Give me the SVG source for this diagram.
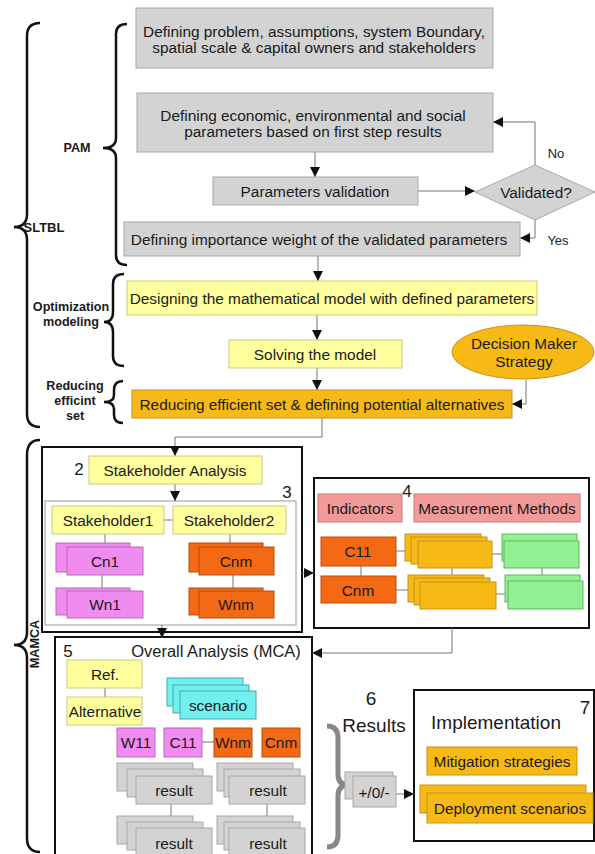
<svg xmlns="http://www.w3.org/2000/svg" width="595" height="854" viewBox="0 0 595 854">
<style>
.t{font-family:"Liberation Sans",Arial,sans-serif;font-size:15.4px;text-anchor:middle;dominant-baseline:central;fill:#1a1a1a}
.b{font-weight:bold;font-size:12.6px}
.n17{font-size:17px}
.n19{font-size:19px}
.n16{font-size:16.5px}
.n13{font-size:13px}
.gray{fill:#D3D3D3;stroke:#A8A8A8;stroke-width:1}
.ly{fill:#FFFF9E;stroke:#CACA80;stroke-width:1}
.or{fill:#F7B916;stroke:#C8921A;stroke-width:1}
.pk{fill:#F08CF0;stroke:#B868B8;stroke-width:1}
.rd{fill:#F46A14;stroke:#B84C10;stroke-width:1}
.sal{fill:#F29A9A;stroke:#C87878;stroke-width:1}
.gr{fill:#92F092;stroke:#60B860;stroke-width:1}
.cy{fill:#72F0F0;stroke:#40AAAA;stroke-width:1}
.cont{fill:#fff;stroke:#111;stroke-width:2}
.brace{fill:none;stroke:#111;stroke-width:2.5}
.ln{fill:none;stroke:#777;stroke-width:1}
.ar{fill:none;stroke:#777;stroke-width:1;marker-end:url(#ah)}
</style>
<defs>
<marker id="ah" markerUnits="userSpaceOnUse" markerWidth="10" markerHeight="10" viewBox="0 0 10 10" refX="10" refY="5" orient="auto">
<path d="M0,0 L10,5 L0,10 z" fill="#111"/>
</marker>
</defs>
<rect width="595" height="854" fill="#fff"/>

<g id="braces">
<path class="brace" d="M40,23 Q27,23 27,36 L27,214 Q27,227 14,227 Q27,227 27,240 L27,414 Q27,427 40,427"/>
<path class="brace" d="M127,24 Q116,24 116,34 L116,138 Q116,148 103,148 Q116,148 116,158 L116,255 Q116,265 127,265"/>
<path class="brace" d="M124,274 Q113,274 113,284 L113,312 Q113,322 104,322 Q113,322 113,332 L113,356 Q113,366 124,366"/>
<path class="brace" d="M123,381 Q114,381 114,390 L114,395 Q114,402 104,402 Q114,402 114,409 L114,415 Q114,423 123,423"/>
<path class="brace" d="M40,440 Q27,440 27,455 L27,632 Q27,645 14,645 Q27,645 27,658 L27,838 Q27,852 40,852"/>
<path fill="none" stroke="#888" stroke-width="5" d="M327,726 Q338,726 338,738 L338,774 Q338,785 348,785 Q338,785 338,796 L338,835 Q338,847 327,847"/>
<text class="t b" x="77" y="148">PAM</text>
<text class="t b" x="44" y="227" style="font-size:13px">SLTBL</text>
<text class="t b" x="71" y="307">Optimization</text>
<text class="t b" x="71" y="322">modeling</text>
<text class="t b" x="75" y="386">Reducing</text>
<text class="t b" x="75" y="401">efficint</text>
<text class="t b" x="75" y="416">set</text>
<text class="t b" x="35" y="644" transform="rotate(-90 35 644)">MAMCA</text>
</g>

<g id="containers">
<rect id="c2" class="cont" x="42" y="447" width="260" height="185"/>
<rect id="c3" x="45" y="501" width="251" height="124" fill="#fff" stroke="#999" stroke-width="1"/>
<rect id="c4" class="cont" x="314" y="478" width="275" height="150"/>
<rect id="c5" class="cont" x="55" y="637" width="257" height="230"/>
<rect id="c7" class="cont" x="414" y="690" width="180" height="151"/>
<text class="t n17" x="79" y="469">2</text>
<text class="t n17" x="287" y="492">3</text>
<text class="t n17" x="407" y="491">4</text>
<text class="t n17" x="68" y="651">5</text>
<text class="t n16" x="216" y="651">Overall Analysis (MCA)</text>
<text class="t n19" x="371" y="698">6</text>
<text class="t n19" x="374" y="725">Results</text>
<text class="t n19" x="585" y="707">7</text>
<text class="t n19" x="496" y="722">Implementation</text>
</g>

<g id="connectors">
<path class="ar" d="M315,152 V177"/>
<path class="ar" d="M418,191 H475"/>
<path class="ar" d="M535,165 V122 H493"/>
<path class="ar" d="M535,220 V238 H520"/>
<path class="ar" d="M318,256 V281"/>
<path class="ar" d="M317,315 V340"/>
<path class="ar" d="M317,368 V390"/>
<path class="ar" d="M526,380 V404 H512"/>
<path class="ar" d="M322,418 V437 H175 V456"/>
<path class="ar" d="M175,484 V501"/>
<path class="ar" d="M302,573 H314"/>
<path class="ar" d="M162,625 V638"/>
<path class="ar" d="M452,628 V653 H312"/>
<path class="ar" d="M396,794 H414"/>
<path class="ln" d="M164,520 H173"/>
<path class="ln" d="M105,534 V547 M102,575 V591 M230,534 V547 M233,575 V591"/>
<path class="ln" d="M361,566 V576 M396,551 H405 M492,554 H504 M452,568 V582 M542,568 V581 M396,590 H408 M496,594 H508"/>
<path class="ln" d="M105,688 V697 M202,742 H214 M171,804 V828 M267,804 V828"/>
</g>

<g id="n1"><rect class="gray" x="136" y="8" width="357" height="60"/>
<text class="t" x="314" y="31">Defining problem, assumptions, system Boundary,</text>
<text class="t" x="314" y="47">spatial scale &amp; capital owners and stakeholders</text></g>
<g id="n2"><rect class="gray" x="137" y="93" width="356" height="59"/>
<text class="t" x="313" y="115">Defining economic, environmental and social</text>
<text class="t" x="313" y="131">parameters based on first step results</text></g>
<g id="n3"><rect class="gray" x="213" y="177" width="205" height="28"/>
<text class="t" x="315" y="191">Parameters validation</text></g>
<g id="n-valid"><polygon class="gray" points="475,192 535,165 595,192 535,220"/>
<text class="t" x="536" y="192">Validated?</text></g>
<text class="t n13" x="556" y="153">No</text>
<text class="t n13" x="558" y="240">Yes</text>
<g id="n4"><rect class="gray" x="124" y="222" width="396" height="34"/>
<text class="t" x="319" y="239">Defining importance weight of the validated parameters</text></g>
<g id="n5"><rect class="ly" x="127" y="281" width="410" height="34"/>
<text class="t" x="332" y="298">Designing the mathematical model with defined parameters</text></g>
<g id="n6"><rect class="ly" x="229" y="340" width="173" height="28"/>
<text class="t" x="315" y="354">Solving the model</text></g>
<g id="n-dm"><ellipse cx="523" cy="352" rx="71" ry="27" fill="#F7B916" stroke="#C8921A"/>
<text class="t" x="524" y="343">Decision Maker</text>
<text class="t" x="524" y="361">Strategy</text></g>
<g id="n7"><rect class="or" x="132" y="390" width="380" height="28"/>
<text class="t" x="322" y="404">Reducing efficient set &amp; defining potential alternatives</text></g>

<g id="n-sa"><rect class="ly" x="89" y="456" width="173" height="28"/>
<text class="t" x="175" y="470">Stakeholder Analysis</text></g>
<g id="n-s1"><rect class="ly" x="52" y="506" width="112" height="28"/>
<text class="t" x="108" y="520">Stakeholder1</text></g>
<g id="n-s2"><rect class="ly" x="173" y="506" width="113" height="28"/>
<text class="t" x="229" y="520">Stakeholder2</text></g>
<g id="n-cn1"><rect class="pk" x="56" y="543" width="74" height="29"/><rect class="pk" x="67" y="547" width="76" height="28"/>
<text class="t" x="105" y="561">Cn1</text></g>
<g id="n-wn1"><rect class="pk" x="56" y="588" width="74" height="27"/><rect class="pk" x="67" y="591" width="76" height="27"/>
<text class="t" x="105" y="604">Wn1</text></g>
<g id="n-cnm"><rect class="rd" x="189" y="543" width="74" height="29"/><rect class="rd" x="199" y="547" width="75" height="28"/>
<text class="t" x="236" y="561">Cnm</text></g>
<g id="n-wnm"><rect class="rd" x="189" y="588" width="74" height="27"/><rect class="rd" x="199" y="591" width="75" height="27"/>
<text class="t" x="236" y="604">Wnm</text></g>

<g id="n-ind"><rect class="sal" x="318" y="494" width="84" height="28"/>
<text class="t" x="360" y="508">Indicators</text></g>
<g id="n-mm"><rect class="sal" x="414" y="494" width="166" height="28"/>
<text class="t" x="497" y="508">Measurement Methods</text></g>
<g id="n-c11"><rect class="rd" x="321" y="537" width="75" height="29"/>
<text class="t" x="358" y="551">C11</text></g>
<g id="n-cnm4"><rect class="rd" x="321" y="576" width="75" height="27"/>
<text class="t" x="358" y="590">Cnm</text></g>
<g id="n-y1"><rect class="or" x="405" y="534" width="76" height="27"/><rect class="or" x="411" y="537" width="76" height="27"/><rect class="or" x="418" y="541" width="74" height="27"/></g>
<g id="n-y2"><rect class="or" x="408" y="575" width="76" height="27"/><rect class="or" x="414" y="578" width="76" height="27"/><rect class="or" x="420" y="582" width="76" height="27"/></g>
<g id="n-g1"><rect class="gr" x="502" y="534" width="75" height="27"/><rect class="gr" x="504" y="541" width="75" height="27"/></g>
<g id="n-g2"><rect class="gr" x="505" y="575" width="75" height="27"/><rect class="gr" x="508" y="581" width="75" height="28"/></g>

<g id="n-ref"><rect class="ly" x="67" y="660" width="75" height="28"/>
<text class="t" x="105" y="674">Ref.</text></g>
<g id="n-alt"><rect class="ly" x="67" y="697" width="75" height="28"/>
<text class="t" x="105" y="711">Alternative</text></g>
<g id="n-sc"><rect class="cy" x="167" y="678" width="76" height="28"/><rect class="cy" x="173" y="685" width="76" height="28"/><rect class="cy" x="180" y="691" width="76" height="28"/>
<text class="t" x="218" y="705">scenario</text></g>
<g id="n-w11"><rect class="pk" x="117" y="728" width="38" height="29"/>
<text class="t" x="136" y="742">W11</text></g>
<g id="n-c11b"><rect class="pk" x="164" y="728" width="38" height="29"/>
<text class="t" x="183" y="742">C11</text></g>
<g id="n-wnmb"><rect class="rd" x="214" y="728" width="38" height="29"/>
<text class="t" x="233" y="742">Wnm</text></g>
<g id="n-cnmb"><rect class="rd" x="262" y="728" width="38" height="29"/>
<text class="t" x="281" y="742">Cnm</text></g>
<g id="n-r1"><rect class="gray" x="117" y="763" width="76" height="28"/><rect class="gray" x="127" y="769" width="76" height="28"/><rect class="gray" x="136" y="776" width="76" height="28"/>
<text class="t" x="174" y="790">result</text></g>
<g id="n-r2"><rect class="gray" x="217" y="763" width="76" height="28"/><rect class="gray" x="224" y="769" width="76" height="28"/><rect class="gray" x="229" y="776" width="76" height="28"/>
<text class="t" x="268" y="790">result</text></g>
<g id="n-r3"><rect class="gray" x="117" y="816" width="76" height="28"/><rect class="gray" x="127" y="822" width="76" height="28"/><rect class="gray" x="136" y="828" width="76" height="28"/>
<text class="t" x="174" y="843">result</text></g>
<g id="n-r4"><rect class="gray" x="217" y="816" width="76" height="28"/><rect class="gray" x="224" y="822" width="76" height="28"/><rect class="gray" x="229" y="828" width="76" height="28"/>
<text class="t" x="268" y="843">result</text></g>

<g id="n-pm"><rect class="gray" x="345" y="772" width="48" height="27"/><rect class="gray" x="353" y="776" width="43" height="31"/>
<text class="t" x="374" y="792">+/0/-</text></g>
<g id="n-mit"><rect class="or" x="427" y="747" width="150" height="28"/>
<text class="t" x="502" y="761">Mitigation strategies</text></g>
<g id="n-dep"><rect class="or" x="420" y="785" width="166" height="28"/><rect class="or" x="427" y="793" width="166" height="30"/>
<text class="t" x="510" y="808">Deployment scenarios</text></g>
</svg>
